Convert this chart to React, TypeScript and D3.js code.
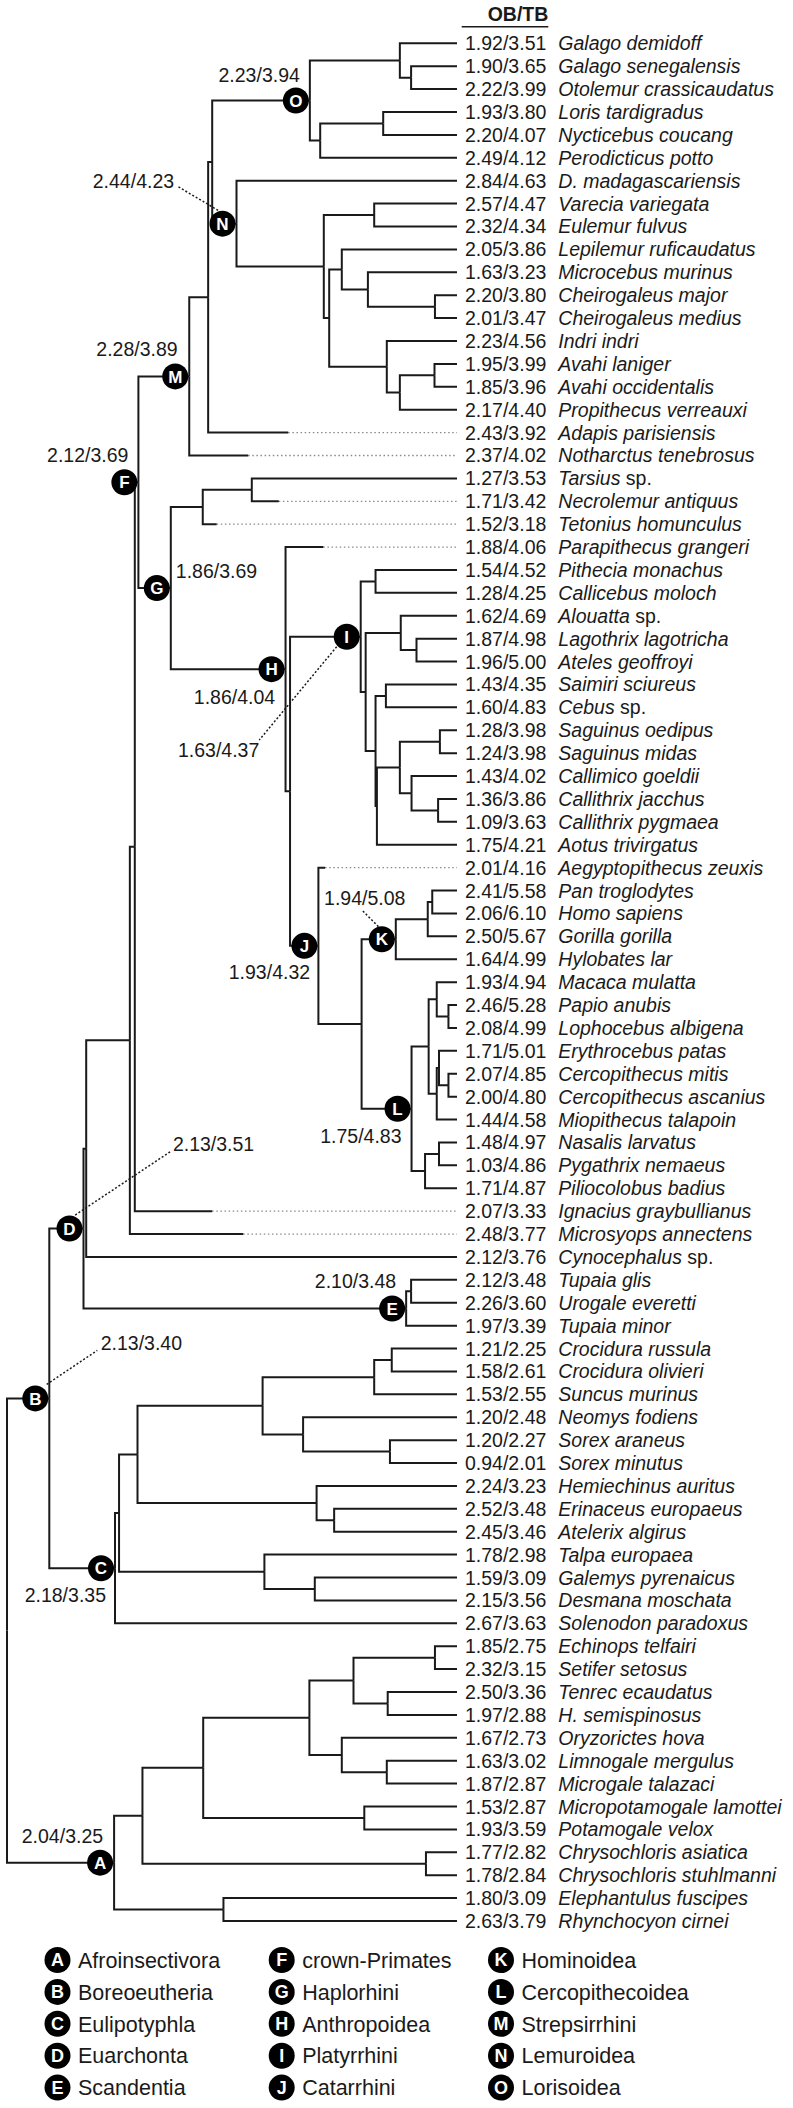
import React from "react";
import * as d3 from "d3";

// ---------- DATA ----------
const leafNames = [
  "Galago demidoff", "Galago senegalensis", "Otolemur crassicaudatus", "Loris tardigradus",
  "Nycticebus coucang", "Perodicticus potto", "D. madagascariensis", "Varecia variegata",
  "Eulemur fulvus", "Lepilemur ruficaudatus", "Microcebus murinus", "Cheirogaleus major",
  "Cheirogaleus medius", "Indri indri", "Avahi laniger", "Avahi occidentalis",
  "Propithecus verreauxi", "Adapis parisiensis", "Notharctus tenebrosus", "Tarsius sp.",
  "Necrolemur antiquus", "Tetonius homunculus", "Parapithecus grangeri", "Pithecia monachus",
  "Callicebus moloch", "Alouatta sp.", "Lagothrix lagotricha", "Ateles geoffroyi",
  "Saimiri sciureus", "Cebus sp.", "Saguinus oedipus", "Saguinus midas",
  "Callimico goeldii", "Callithrix jacchus", "Callithrix pygmaea", "Aotus trivirgatus",
  "Aegyptopithecus zeuxis", "Pan troglodytes", "Homo sapiens", "Gorilla gorilla",
  "Hylobates lar", "Macaca mulatta", "Papio anubis", "Lophocebus albigena",
  "Erythrocebus patas", "Cercopithecus mitis", "Cercopithecus ascanius", "Miopithecus talapoin",
  "Nasalis larvatus", "Pygathrix nemaeus", "Piliocolobus badius", "Ignacius graybullianus",
  "Microsyops annectens", "Cynocephalus sp.", "Tupaia glis", "Urogale everetti",
  "Tupaia minor", "Crocidura russula", "Crocidura olivieri", "Suncus murinus",
  "Neomys fodiens", "Sorex araneus", "Sorex minutus", "Hemiechinus auritus",
  "Erinaceus europaeus", "Atelerix algirus", "Talpa europaea", "Galemys pyrenaicus",
  "Desmana moschata", "Solenodon paradoxus", "Echinops telfairi", "Setifer setosus",
  "Tenrec ecaudatus", "H. semispinosus", "Oryzorictes hova", "Limnogale mergulus",
  "Microgale talazaci", "Micropotamogale lamottei", "Potamogale velox", "Chrysochloris asiatica",
  "Chrysochloris stuhlmanni", "Elephantulus fuscipes", "Rhynchocyon cirnei",
];

const leafValues = [
  "1.92/3.51", "1.90/3.65", "2.22/3.99", "1.93/3.80", "2.20/4.07", "2.49/4.12", "2.84/4.63",
  "2.57/4.47", "2.32/4.34", "2.05/3.86", "1.63/3.23", "2.20/3.80", "2.01/3.47", "2.23/4.56",
  "1.95/3.99", "1.85/3.96", "2.17/4.40", "2.43/3.92", "2.37/4.02", "1.27/3.53", "1.71/3.42",
  "1.52/3.18", "1.88/4.06", "1.54/4.52", "1.28/4.25", "1.62/4.69", "1.87/4.98", "1.96/5.00",
  "1.43/4.35", "1.60/4.83", "1.28/3.98", "1.24/3.98", "1.43/4.02", "1.36/3.86", "1.09/3.63",
  "1.75/4.21", "2.01/4.16", "2.41/5.58", "2.06/6.10", "2.50/5.67", "1.64/4.99", "1.93/4.94",
  "2.46/5.28", "2.08/4.99", "1.71/5.01", "2.07/4.85", "2.00/4.80", "1.44/4.58", "1.48/4.97",
  "1.03/4.86", "1.71/4.87", "2.07/3.33", "2.48/3.77", "2.12/3.76", "2.12/3.48", "2.26/3.60",
  "1.97/3.39", "1.21/2.25", "1.58/2.61", "1.53/2.55", "1.20/2.48", "1.20/2.27", "0.94/2.01",
  "2.24/3.23", "2.52/3.48", "2.45/3.46", "1.78/2.98", "1.59/3.09", "2.15/3.56", "2.67/3.63",
  "1.85/2.75", "2.32/3.15", "2.50/3.36", "1.97/2.88", "1.67/2.73", "1.63/3.02", "1.87/2.87",
  "1.53/2.87", "1.93/3.59", "1.77/2.82", "1.78/2.84", "1.80/3.09", "2.63/3.79",
];

// fossil taxa: index and relative depth where the solid branch ends
const fossilIdx = [17, 18, 20, 21, 22, 36, 51, 52];
const fossilSolidDepth = [62.5, 53.6, 60.4, 46.6, 70.3, 70.7, 45.6, 52.5];

// tree topology (newick, leaf = index, internal label = relative depth|clade)
const nwLorisoidea = "((0,(1,2)89.8)87.3,((3,4)83.6,5)69.6)67.3|O";
const nwLemuroidea = "(6,((7,8)81.6,((9,(10,(11,12)95.1)80.2)74.4,(13,((14,15)95.0,16)87.3)84.4)71.6)70.4)51.0|N";
const nwStrepsirrhini = "(((" + nwLorisoidea + "," + nwLemuroidea + ")45.6,17)44.7,18)40.5|M";
const nwTarsiiformes = "((19,20)54.4,21)43.5";
const nwPlatyrrhini = "((23,24)81.9,((25,(26,27)91.0)87.5,((28,29)84.2,(((30,31)96.2,(32,(33,34)95.8)89.9)87.3,35)82.2)81.9)79.7)78.6|I";
const nwHominoidea = "(((37,38)94.5,39)93.5,40)86.4|K";
const nwCercopithecoidea = "(((41,(42,43)98.1)95.5,((44,(45,46)98.1)96.0,47)95.5)93.7,((48,49)96.0,50)92.9)89.9|L";
const nwCatarrhini = "(36,(" + nwHominoidea + "," + nwCercopithecoidea + ")78.8)69.2|J";
const nwHaplorhini = "(" + nwTarsiiformes + ",(22,(" + nwPlatyrrhini + "," + nwCatarrhini + ")62.9)61.9|H)36.4|G";
const nwPrimates = "(" + nwStrepsirrhini + "," + nwHaplorhini + ")29.2|F";
const nwScandentia = "((54,55)89.8,56)88.7|E";
const nwEuarchonta = "((((" + nwPrimates + ",51)28.4,52)27.3,53)17.6," + nwScandentia + ")17.0|D";
const nwSoricidae = "(((57,58)85.5,59)81.6,(60,(61,62)85.1)65.8)56.8";
const nwErinaceidae = "(63,(64,65)72.7)68.8";
const nwTalpidae = "(66,(67,68)68.4)57.2";
const nwEulipotyphla = "(((" + nwSoricidae + "," + nwErinaceidae + ")29.0," + nwTalpidae + ")24.9,69)24.0|C";
const nwBoreoeutheria = "(" + nwEuarchonta + "," + nwEulipotyphla + ")9.4|B";
const nwTenrecidae = "((((70,71)95.1,(72,73)84.6)77.0,(74,(75,76)84.4)74.4)67.2,(77,78)79.4)43.6";
const nwAfroinsectivora = "((" + nwTenrecidae + ",(79,80)93.1)30.1,(81,82)48.1)23.8|A";
const treeNewick = "(" + nwBoreoeutheria + "," + nwAfroinsectivora + ")0";

const cladeLetters = ["A", "B", "C", "D", "E", "F", "G", "H", "I", "J", "K", "L", "M", "N", "O"];
const cladeNames = [
  "Afroinsectivora", "Boreoeutheria", "Eulipotyphla", "Euarchonta", "Scandentia",
  "crown-Primates", "Haplorhini", "Anthropoidea", "Platyrrhini", "Catarrhini",
  "Hominoidea", "Cercopithecoidea", "Strepsirrhini", "Lemuroidea", "Lorisoidea",
];
const cladeValues = [
  "2.04/3.25", "2.13/3.40", "2.18/3.35", "2.13/3.51", "2.10/3.48",
  "2.12/3.69", "1.86/3.69", "1.86/4.04", "1.63/4.37", "1.93/4.32",
  "1.94/5.08", "1.75/4.83", "2.28/3.89", "2.44/4.23", "2.23/3.94",
];
const headerLabel = "OB/TB";

// ---------- LAYOUT (annotation placement relative to clade badge) ----------
type LabelPos = { dx: number; dy: number; anchor: "start" | "end"; leader?: [number, number, number, number] };
const cladeLabelPos: Record<string, LabelPos> = {
  A: { dx: 3, dy: -20, anchor: "end" },
  B: { dx: 65.4, dy: -48, anchor: "start", leader: [11.4, -14, 62, -48] },
  C: { dx: 5, dy: 33.4, anchor: "end" },
  D: { dx: 103.4, dy: -78, anchor: "start", leader: [5.7, -13.5, 100.7, -76.8] },
  E: { dx: 4, dy: -20, anchor: "end" },
  F: { dx: 4, dy: -20, anchor: "end" },
  G: { dx: 19, dy: -10, anchor: "start" },
  H: { dx: 3.6, dy: 35.3, anchor: "end" },
  I: { dx: -87.4, dy: 120.6, anchor: "end", leader: [-10, 10, -87.4, 103.3] },
  J: { dx: 5.7, dy: 33.3, anchor: "end" },
  K: { dx: -57.7, dy: -34.3, anchor: "start", leader: [-3.4, -12.6, -20, -29.3] },
  L: { dx: 4, dy: 34.4, anchor: "end" },
  M: { dx: 2.4, dy: -20, anchor: "end" },
  N: { dx: -48.4, dy: -35.7, anchor: "end", leader: [-4.4, -13.3, -45, -37.3] },
  O: { dx: 4, dy: -19, anchor: "end" },
};

type TNode = { leaf?: number; depth: number; clade?: string; children?: TNode[] };

function parseNewick(s: string): TNode {
  let i = 0;
  function node(): TNode {
    let children: TNode[] | undefined;
    if (s[i] === "(") {
      children = [];
      i++;
      children.push(node());
      while (s[i] === ",") {
        i++;
        children.push(node());
      }
      i++;
    }
    let lab = "";
    while (i < s.length && !",()".includes(s[i])) lab += s[i++];
    if (!children) return { leaf: +lab, depth: 100 };
    const [d, c] = lab.split("|");
    return { depth: +d, clade: c, children };
  }
  return node();
}

const W = 793;
const H = 2108;
const FONT = "'Liberation Sans', Arial, Helvetica, sans-serif";
const FS = 19.5;
const LEGEND_FS = 21.5;
const INK = "#1a1a1a";

export default function App() {
  const root = d3.hierarchy(parseNewick(treeNewick), (d) => d.children);
  const xScale = d3.scaleLinear().domain([0, 100]).range([7, 457]);
  const yScale = d3.scaleLinear().domain([0, leafNames.length - 1]).range([43.3, 1921]);

  const pos = new Map<d3.HierarchyNode<TNode>, { x: number; y: number }>();
  root.eachAfter((n) => {
    const x = xScale(n.data.depth);
    let y: number;
    if (!n.children) y = yScale(n.data.leaf as number);
    else {
      const a = pos.get(n.children[0])!.y;
      const b = pos.get(n.children[n.children.length - 1])!.y;
      y = (a + b) / 2;
    }
    pos.set(n, { x, y });
  });

  const branches: React.ReactNode[] = [];
  const dotted: React.ReactNode[] = [];
  root.descendants().forEach((n, k) => {
    if (!n.parent) return;
    const p = pos.get(n.parent)!;
    const c = pos.get(n)!;
    let endX = c.x;
    const fi = n.data.leaf !== undefined ? fossilIdx.indexOf(n.data.leaf) : -1;
    if (fi >= 0) {
      endX = xScale(fossilSolidDepth[fi]);
      dotted.push(
        <line key={"dt" + k} x1={endX} x2={c.x} y1={c.y} y2={c.y} stroke="#8a8a8a" strokeWidth={1.3} strokeDasharray="1.5,2.6" />
      );
    }
    branches.push(
      <path key={"b" + k} d={`M${p.x},${p.y}V${c.y}H${endX}`} fill="none" stroke={INK} strokeWidth={2} strokeLinejoin="miter" strokeLinecap="butt" />
    );
  });

  const clades = root.descendants().filter((n) => n.data.clade);

  const speciesLabel = (name: string) => {
    if (name.endsWith(" sp.")) {
      return (
        <>
          <tspan fontStyle="italic">{name.slice(0, -4)}</tspan>
          <tspan> sp.</tspan>
        </>
      );
    }
    return <tspan fontStyle="italic">{name}</tspan>;
  };

  const Badge = ({ cx, cy, letter, r = 13, fs = 17 }: { cx: number; cy: number; letter: string; r?: number; fs?: number }) => (
    <g>
      <circle cx={cx} cy={cy} r={r} fill="#000" />
      <text x={cx} y={cy + fs * 0.36} textAnchor="middle" fill="#fff" fontWeight="bold" fontSize={fs} fontFamily={FONT}>
        {letter}
      </text>
    </g>
  );

  const legendColX = [57.5, 281.7, 501];
  const legendRowY = d3.scaleLinear().domain([0, 4]).range([1960, 2087.6]);

  return (
    <svg width={W} height={H} style={{ position: "absolute", left: 0, top: 0, background: "#fff" }} fontFamily={FONT}>
      <rect width={W} height={H} fill="#fff" />
      {/* header */}
      <text x={548.3} y={20.7} textAnchor="end" fontWeight="bold" fontSize={FS} fill={INK}>
        {headerLabel}
      </text>
      <line x1={461.7} x2={548.3} y1={26.7} y2={26.7} stroke={INK} strokeWidth={1.6} />

      {dotted}
      {branches}

      {/* leaf labels */}
      {leafNames.map((name, i) => (
        <g key={"l" + i}>
          <text x={465} y={yScale(i) + 7} fontSize={FS} fill={INK}>
            {leafValues[i]}
          </text>
          <text x={558.3} y={yScale(i) + 7} fontSize={FS} fill={INK}>
            {speciesLabel(name)}
          </text>
        </g>
      ))}

      {/* clade badges and annotations */}
      {clades.map((n, k) => {
        const letter = n.data.clade as string;
        const idx = cladeLetters.indexOf(letter);
        const p = pos.get(n)!;
        const cx = p.x - 14;
        const cy = p.y;
        const lp = cladeLabelPos[letter];
        return (
          <g key={"c" + k}>
            {lp.leader && (
              <line
                x1={cx + lp.leader[0]}
                y1={cy + lp.leader[1]}
                x2={cx + lp.leader[2]}
                y2={cy + lp.leader[3]}
                stroke={INK}
                strokeWidth={1.5}
                strokeDasharray="2,2"
              />
            )}
            <Badge cx={cx} cy={cy} letter={letter} />
            <text x={cx + lp.dx} y={cy + lp.dy} textAnchor={lp.anchor} fontSize={FS} fill={INK}>
              {cladeValues[idx]}
            </text>
          </g>
        );
      })}

      {/* legend */}
      {cladeLetters.map((letter, i) => {
        const col = Math.floor(i / 5);
        const row = i % 5;
        const cx = legendColX[col];
        const cy = legendRowY(row);
        return (
          <g key={"lg" + i}>
            <Badge cx={cx} cy={cy} letter={letter} r={13} fs={18} />
            <text x={cx + 20.5} y={cy + 7.7} fontSize={LEGEND_FS} fill={INK}>
              {cladeNames[i]}
            </text>
          </g>
        );
      })}
    </svg>
  );
}
